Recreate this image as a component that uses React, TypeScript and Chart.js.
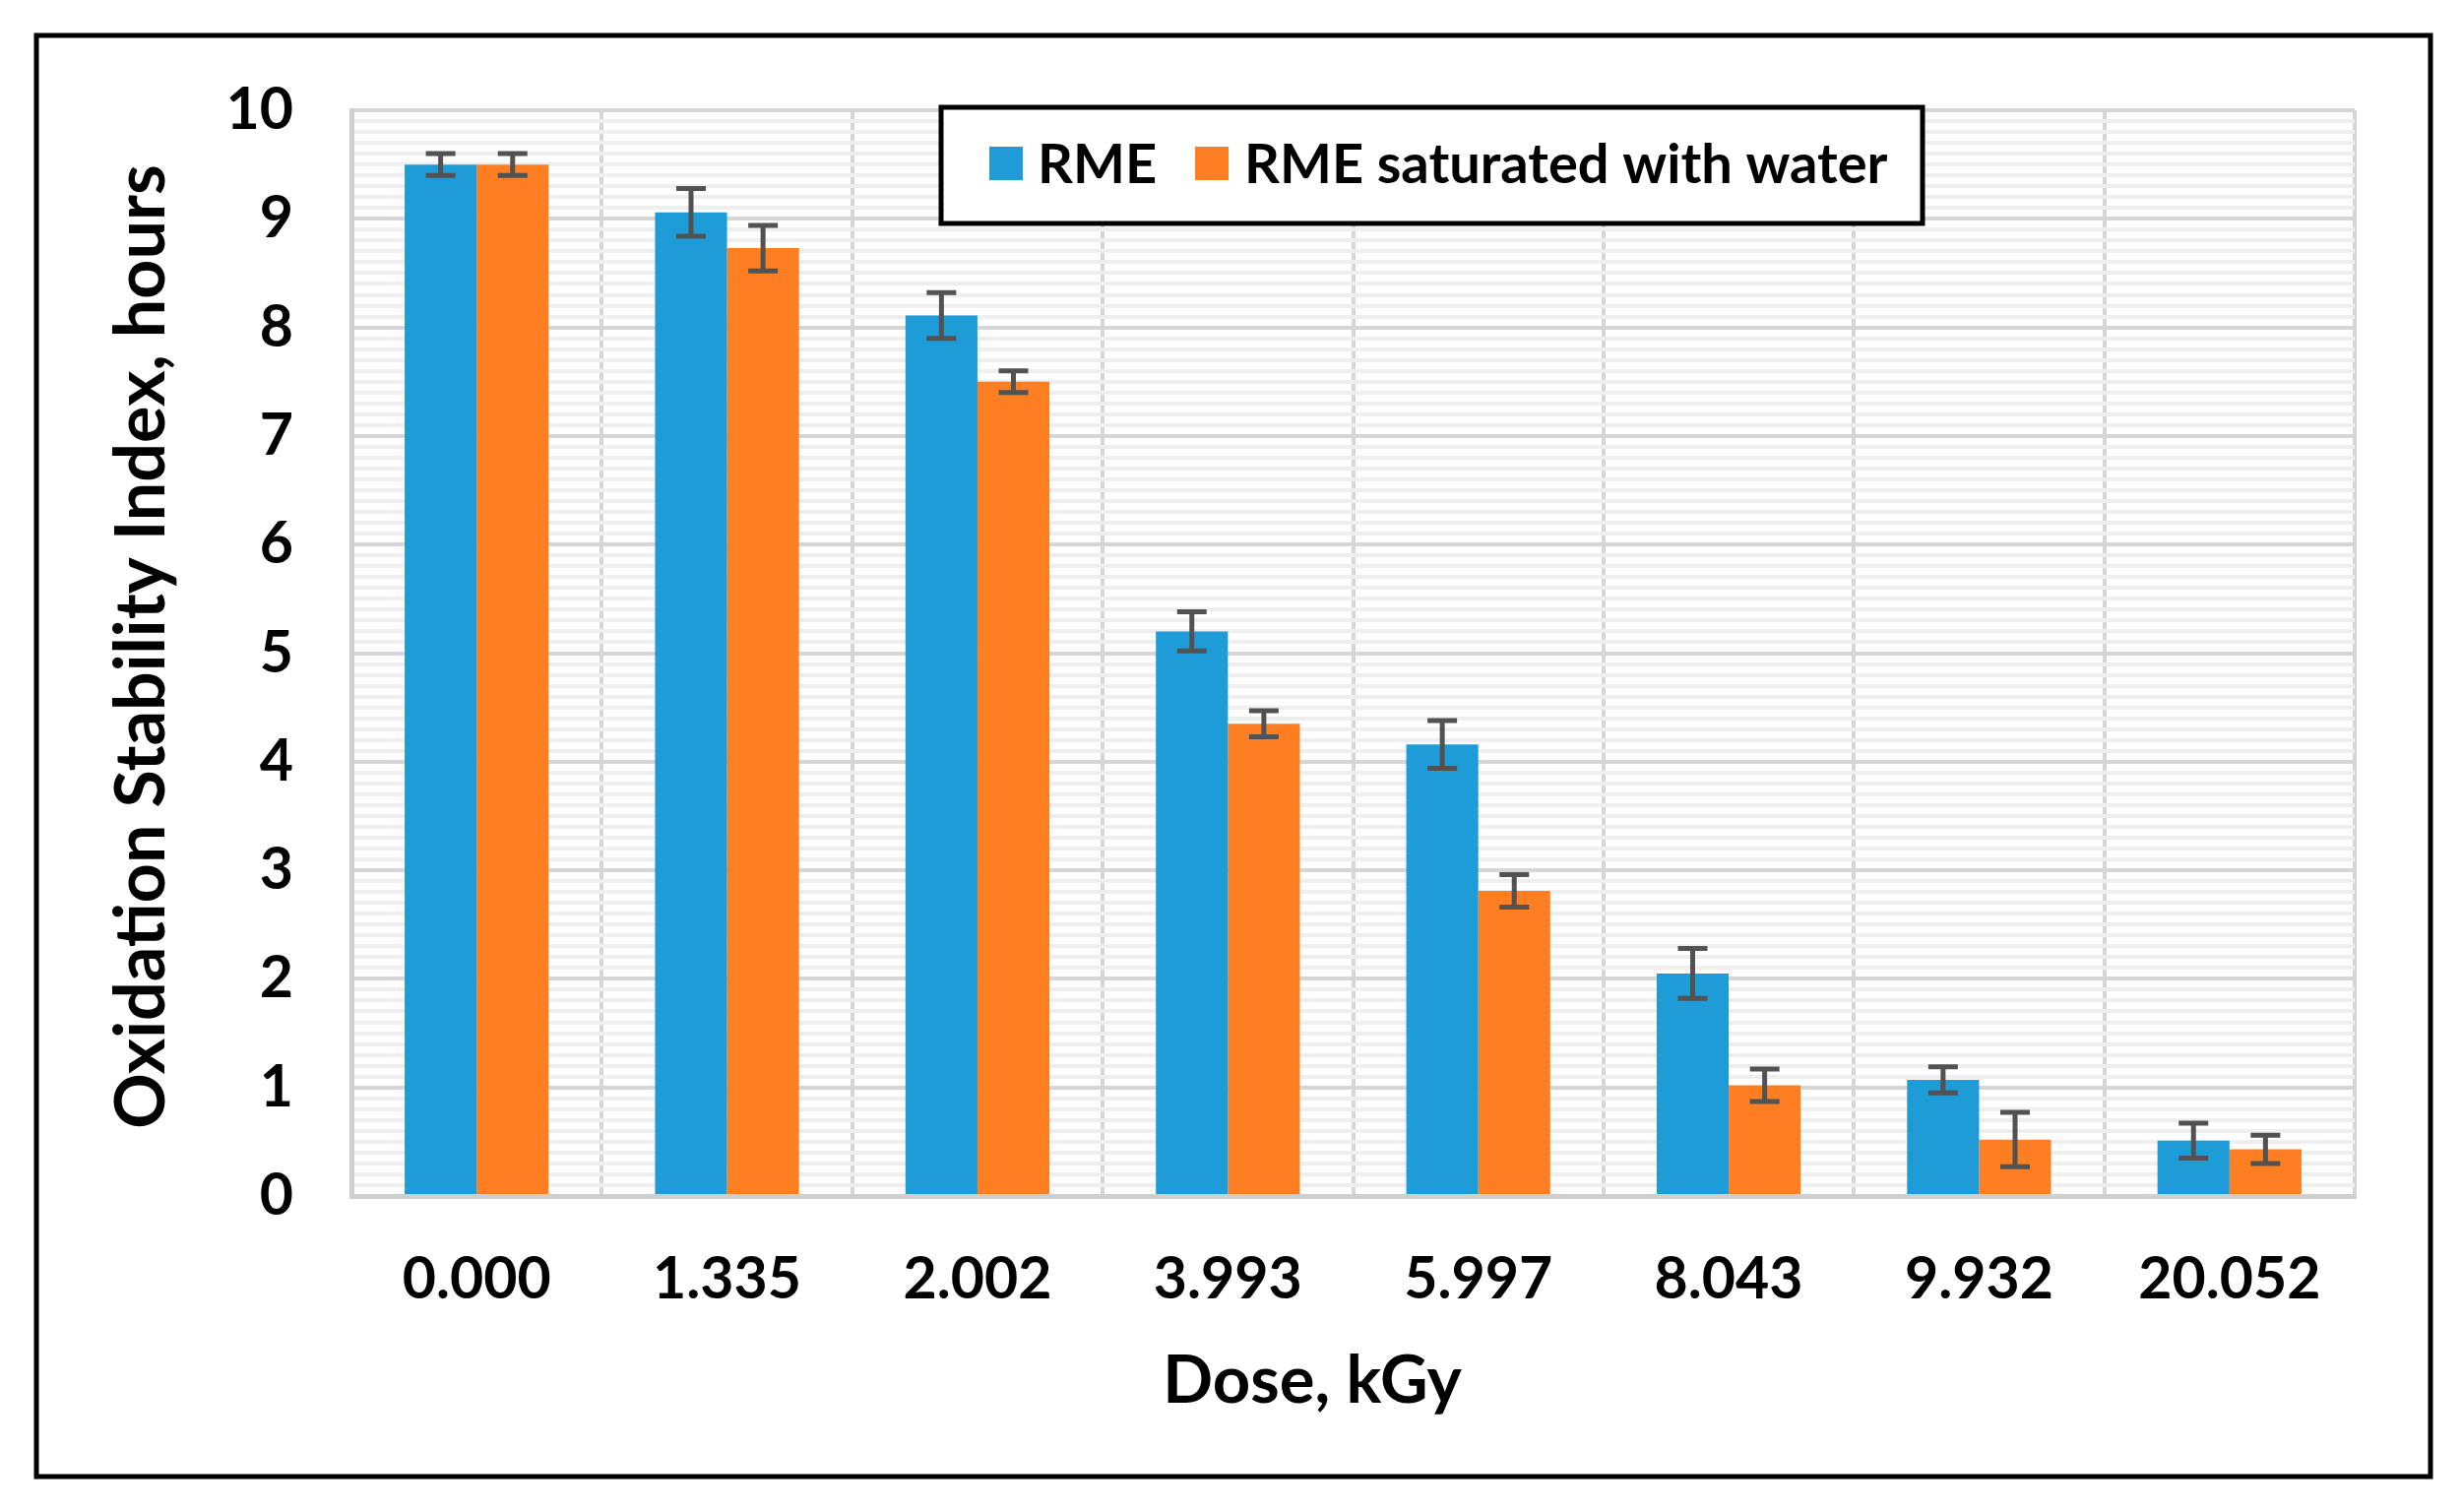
import React, { useEffect, useRef } from "react";
import { Chart, registerables } from "chart.js";

Chart.register(...registerables);

const doses = ["0.000", "1.335", "2.002", "3.993", "5.997", "8.043", "9.932", "20.052"];
const rmeValues = [9.5, 9.06, 8.11, 5.2, 4.16, 2.05, 1.07, 0.51];
const rmeErrors = [0.1, 0.22, 0.21, 0.18, 0.22, 0.23, 0.12, 0.16];
const wetValues = [9.5, 8.73, 7.5, 4.35, 2.81, 1.02, 0.52, 0.43];
const wetErrors = [0.1, 0.21, 0.1, 0.12, 0.15, 0.15, 0.25, 0.13];
const seriesLabels = ["RME", "RME saturated with water"];
const yTicks = [0, 1, 2, 3, 4, 5, 6, 7, 8, 9, 10];
const xTitle = "Dose, kGy";
const yTitle = "Oxidation Stability Index, hours";

const BLUE = "#1e9cd8";
const ORANGE = "#fd7f22";
const FONT = "Lato, 'Open Sans', sans-serif";

const errorBarPlugin = {
  id: "errorBars",
  afterDatasetsDraw(chart: any) {
    const ctx = chart.ctx;
    const y = chart.scales.y;
    const errs = [rmeErrors, wetErrors];
    ctx.save();
    ctx.strokeStyle = "#525252";
    ctx.lineWidth = 5;
    chart.data.datasets.forEach((ds: any, di: number) => {
      const meta = chart.getDatasetMeta(di);
      meta.data.forEach((bar: any, i: number) => {
        const v = ds.data[i];
        const e = errs[di][i];
        const x = bar.x;
        const yTop = y.getPixelForValue(v + e);
        const yBot = y.getPixelForValue(v - e);
        const half = 15;
        ctx.beginPath();
        ctx.moveTo(x, yTop);
        ctx.lineTo(x, yBot);
        ctx.moveTo(x - half, yTop);
        ctx.lineTo(x + half, yTop);
        ctx.moveTo(x - half, yBot);
        ctx.lineTo(x + half, yBot);
        ctx.stroke();
      });
    });
    ctx.restore();
  },
};

const decorPlugin = {
  id: "decor",
  afterDraw(chart: any) {
    const ctx = chart.ctx;
    ctx.save();
    // outer frame
    ctx.strokeStyle = "#000";
    ctx.lineWidth = 5;
    ctx.strokeRect(37, 36, 2432, 1464);

    // axis titles
    ctx.fillStyle = "#000";
    ctx.font = `bold 67px ${FONT}`;
    ctx.textAlign = "center";
    ctx.textBaseline = "alphabetic";
    ctx.fillText(xTitle, 1333, 1425);

    ctx.save();
    ctx.translate(167, 657);
    ctx.rotate(-Math.PI / 2);
    ctx.font = `bold 70px ${FONT}`;
    ctx.fillText(yTitle, 0, 0);
    ctx.restore();

    // legend
    ctx.fillStyle = "#fff";
    ctx.fillRect(956, 109, 997, 118);
    ctx.strokeStyle = "#000";
    ctx.lineWidth = 5;
    ctx.strokeRect(956, 109, 997, 118);
    const items = [
      { box: 1005, text: 1054 },
      { box: 1214, text: 1264 },
    ];
    ctx.font = `bold 56px ${FONT}`;
    ctx.textAlign = "left";
    chart.data.datasets.forEach((ds: any, i: number) => {
      ctx.fillStyle = ds.backgroundColor;
      ctx.fillRect(items[i].box, 149, 34, 34);
      ctx.fillStyle = "#000";
      ctx.fillText(ds.label, items[i].text, 186);
    });
    ctx.restore();
  },
};

export default function App() {
  const ref = useRef<HTMLCanvasElement>(null);
  useEffect(() => {
    document.body.style.margin = "0";
    const chart = new Chart(ref.current as HTMLCanvasElement, {
      type: "bar",
      data: {
        labels: doses,
        datasets: [
          { label: seriesLabels[0], data: rmeValues, backgroundColor: BLUE, categoryPercentage: 0.575, barPercentage: 1.0 },
          { label: seriesLabels[1], data: wetValues, backgroundColor: ORANGE, categoryPercentage: 0.575, barPercentage: 1.0 },
        ],
      },
      options: {
        animation: false,
        responsive: false,
        devicePixelRatio: 1,
        layout: { padding: { left: 0, right: 108, top: 112, bottom: 0 } },
        plugins: { legend: { display: false }, tooltip: { enabled: false } },
        scales: {
          x: {
            z: 0,
            grid: { offset: true, color: "#d6d6d6", lineWidth: 4, drawTicks: false },
            border: { color: "#cfcfcf", width: 5 },
            ticks: { color: "#000", font: { family: FONT, size: 59, weight: "bold" }, padding: 50, maxRotation: 0, autoSkip: false },
            afterFit: (s: any) => { s.height = 1536 - 1215; },
          },
          y: {
            z: -1,
            min: 0,
            max: 10,
            afterBuildTicks: (s: any) => {
              const t = [];
              for (let i = 0; i <= 100; i++) t.push({ value: i / 10 });
              s.ticks = t;
            },
            grid: {
              drawTicks: false,
              color: (c: any) => (Math.abs(c.tick.value - Math.round(c.tick.value)) < 1e-6 ? "#d6d6d6" : "#eeeeee"),
              lineWidth: 4,
            },
            border: { color: "#cfcfcf", width: 5 },
            ticks: {
              autoSkip: false,
              color: "#000",
              font: { family: FONT, size: 59, weight: "bold" },
              padding: 59,
              callback: (v: any) => {
                const n = Math.round(Number(v));
                return Math.abs(Number(v) - n) < 1e-6 && yTicks.includes(n) ? String(n) : "";
              },
            },
            afterFit: (s: any) => { s.width = 357; },
          },
        },
      },
      plugins: [errorBarPlugin, decorPlugin],
    });
    return () => chart.destroy();
  }, []);
  return (
    <div style={{ width: 2500, height: 1536, background: "#fff" }}>
      <canvas ref={ref} width={2500} height={1536} style={{ display: "block" }} />
    </div>
  );
}
